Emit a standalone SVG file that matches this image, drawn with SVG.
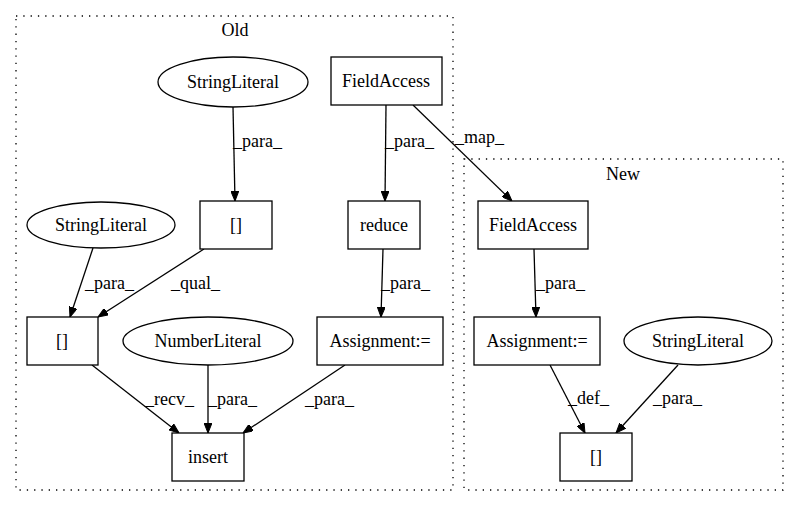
<svg xmlns="http://www.w3.org/2000/svg" width="800" height="508" viewBox="0 0 800 508">
<style>
  text { font-family: 'Liberation Serif', Tinos, 'Times New Roman', Times, 'DejaVu Serif', serif; font-size: 18px; fill: #000; }
  .n { text-anchor: middle; }
  .shape { fill: #fff; stroke: #000; stroke-width: 1.3; }
  .cluster { fill: none; stroke: #000; stroke-width: 1.3; stroke-dasharray: 1.3 6; }
  .edge { fill: none; stroke: #000; stroke-width: 1.3; }
</style>
<defs>
  <marker id="arr" markerUnits="userSpaceOnUse" markerWidth="10" markerHeight="8" refX="10" refY="4" orient="auto">
    <path d="M0,0 L10,4 L0,8 z" fill="#000" stroke="#000" stroke-width="1"/>
  </marker>
</defs>
<rect width="800" height="508" fill="#fff"/>
<g id="cluster_old">
  <rect class="cluster" x="16" y="16" width="437" height="474"/>
  <text class="n" x="235" y="36" font-family="Liberation Serif, serif">Old</text>
</g>
<g id="cluster_new">
  <rect class="cluster" x="464" y="159" width="319" height="331"/>
  <text class="n" x="623" y="180">New</text>
</g>
<g id="edges">
  <path class="edge" marker-end="url(#arr)" d="M233,107 L235,201"/>
  <text x="233" y="147">_para_</text>
  <path class="edge" marker-end="url(#arr)" d="M386,105 L385,201"/>
  <text x="385" y="147">_para_</text>
  <path class="edge" marker-end="url(#arr)" d="M413,105 L512,201"/>
  <text x="455" y="143">_map_</text>
  <path class="edge" marker-end="url(#arr)" d="M93,248 L70,317"/>
  <text x="85" y="289">_para_</text>
  <path class="edge" marker-end="url(#arr)" d="M204,249 L98,317"/>
  <text x="171" y="289">_qual_</text>
  <path class="edge" marker-end="url(#arr)" d="M383,249 L381,317"/>
  <text x="381" y="289">_para_</text>
  <path class="edge" marker-end="url(#arr)" d="M92,365 L179,433"/>
  <text x="145" y="405">_recv_</text>
  <path class="edge" marker-end="url(#arr)" d="M208,365 L208,433"/>
  <text x="208" y="405">_para_</text>
  <path class="edge" marker-end="url(#arr)" d="M345,365 L243,433"/>
  <text x="305" y="405">_para_</text>
  <path class="edge" marker-end="url(#arr)" d="M534,249 L536,317"/>
  <text x="536" y="289">_para_</text>
  <path class="edge" marker-end="url(#arr)" d="M550,365 L585,433"/>
  <text x="568" y="404">_def_</text>
  <path class="edge" marker-end="url(#arr)" d="M678,365 L616,433"/>
  <text x="653" y="404">_para_</text>
</g>
<g id="old_stringliteral_top">
  <ellipse class="shape" cx="233" cy="82" rx="75" ry="25"/>
  <text class="n" x="233" y="88">StringLiteral</text>
</g>
<g id="old_fieldaccess">
  <rect class="shape" x="331" y="57" width="111" height="48"/>
  <text class="n" x="386" y="87">FieldAccess</text>
</g>
<g id="old_index_upper">
  <rect class="shape" x="200" y="201" width="72" height="48"/>
  <text class="n" x="236" y="231">[]</text>
</g>
<g id="old_reduce">
  <rect class="shape" x="348" y="201" width="72" height="48"/>
  <text class="n" x="384" y="231">reduce</text>
</g>
<g id="old_stringliteral_left">
  <ellipse class="shape" cx="101" cy="225" rx="74" ry="23"/>
  <text class="n" x="101" y="231">StringLiteral</text>
</g>
<g id="old_index_lower">
  <rect class="shape" x="27" y="317" width="71" height="48"/>
  <text class="n" x="62" y="347">[]</text>
</g>
<g id="old_numberliteral">
  <ellipse class="shape" cx="208" cy="341" rx="85" ry="24"/>
  <text class="n" x="208" y="347">NumberLiteral</text>
</g>
<g id="old_assignment">
  <rect class="shape" x="317" y="317" width="126" height="48"/>
  <text class="n" x="380" y="347">Assignment:=</text>
</g>
<g id="old_insert">
  <rect class="shape" x="172" y="433" width="72" height="48"/>
  <text class="n" x="208" y="463">insert</text>
</g>
<g id="new_fieldaccess">
  <rect class="shape" x="478" y="201" width="110" height="48"/>
  <text class="n" x="533" y="231">FieldAccess</text>
</g>
<g id="new_assignment">
  <rect class="shape" x="474" y="317" width="126" height="48"/>
  <text class="n" x="537" y="347">Assignment:=</text>
</g>
<g id="new_stringliteral">
  <ellipse class="shape" cx="698" cy="341" rx="74" ry="24"/>
  <text class="n" x="698" y="347">StringLiteral</text>
</g>
<g id="new_index">
  <rect class="shape" x="560" y="433" width="72" height="48"/>
  <text class="n" x="596" y="463">[]</text>
</g>
</svg>
